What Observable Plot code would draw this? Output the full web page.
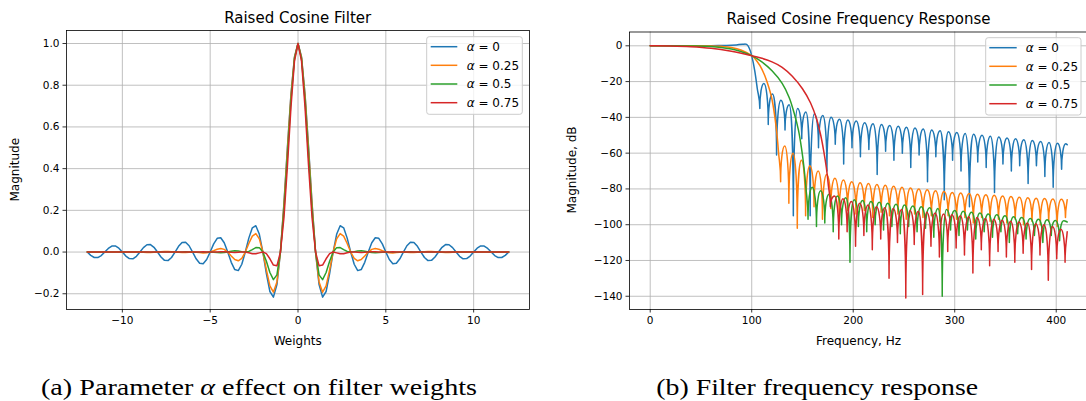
<!DOCTYPE html>
<html><head><meta charset="utf-8">
<script src="https://cdn.jsdelivr.net/npm/d3@7"></script>
<script src="https://cdn.jsdelivr.net/npm/@observablehq/plot@0.6"></script>
<style>
body{margin:0;width:1086px;height:401px;overflow:hidden;position:relative;background:#fff;font-family:"DejaVu Sans",sans-serif;color:#000}
.abs{position:absolute;left:0;top:0}
#left{width:543px}
#right{left:543px;width:560px}
svg{max-width:none !important}
.cap{font-family:'Liberation Serif','Times New Roman',serif}
</style></head><body>
<div id="left" class="abs"></div>
<div id="right" class="abs"></div>
<svg id="deco" class="abs" width="1086" height="401" style="overflow:visible"></svg>
<script>
// ---------- DATA ----------
const alphaLabels = ["0", "0.25", "0.5", "0.75"];
const colors = ["#1f77b4", "#ff7f0e", "#2ca02c", "#d62728"];

// filter weights, one side (weights 0, 0.2, ... 12); the plot is symmetric
const weightStep = 0.2;
const weightsAlpha0 = [1,.9355,.7568,.5046,.2339,0,-.1559,-.2162,-.1892,-.1039,0,.0850,.1261,.1164,.0668,0,-.0585,-.0890,-.0841,-.0492,0,.0445,.0688,.0658,.0390,0,-.0360,-.0561,-.0541,-.0323,0,.0302,.0473,.0459,.0275,0,-.0260,-.0409,-.0398,-.0240,0,.0228,.0360,.0352,.0213,0,-.0203,-.0322,-.0315,-.0191,0,.0183,.0291,.0286,.0173,0,-.0167,-.0266,-.0261,-.0159,0];
const weightsAlpha025 = [1,.9333,.7499,.4941,.2253,0,-.1432,-.1925,-.1624,-.0855,0,.0633,.0886,.0766,.0409,0,-.0303,-.0420,-.0357,-.0186,0,.0129,.0170,.0137,.0066,0,-.0037,-.0040,-.0024,-.0007,0,-.0005,-.0016,-.0021,-.0015,0,.0018,.0029,.0028,.0017,0,-.0014,-.0021,-.0018,-.0009,0,.0006,.0007,.0004,.0001,0,.0001,.0003,.0005,.0004,0,-.0004,-.0008,-.0008,-.0005,0];
const weightsAlpha05 = [1,.9268,.7290,.4634,.2008,0,-.1095,-.1324,-.0981,-.0441,0,.0211,.0214,.0119,.0030,0,.0020,.0050,.0057,.0035,0,-.0025,-.0030,-.0019,-.0005,0,-.0004,-.0012,-.0014,-.0009,0,.0008,.0010,.0006,.0002,0,.0002,.0004,.0006,.0004,0,-.0003,-.0004,-.0003,-.0001,0,0,0,0,0,0,0,0,0,0,0,0,0,0,0,0];
const weightsAlpha075 = [1,.9160,.6952,.4154,.1643,0,-.0662,-.0626,-.0322,-.0075,0,-.0039,-.0085,-.0081,-.0038,0,.0008,-.0006,-.0018,-.0014,0,.0010,.0010,.0002,-.0002,0,.0006,.0009,.0006,.0002,0,.0002,.0004,.0005,.0003,0,-.0001,0,0,0,0,0,0,0,0,0,0,0,0,0,0,0,0,0,0,0,0,0,0,0,0];

// frequency response [Hz, dB]
const respAlpha0 = [[0,0],[20,0.05],[40,-0.05],[60,0.1],[75,0.15],[85,0.45],[91,0.9],[95,0.75],[97.5,-1.2],[100,-5.5],[103,-14],[105.5,-24],[108,-35],
[112,-21],[116.3,-44],[120.4,-27],[124.5,-61],[128.7,-30.5],[132.8,-47],[136.9,-33],[141,-95],[145.2,-35],[149.3,-52],[153.4,-37],[157.6,-95],[161.7,-38],[165.8,-57],[170,-39],[174.1,-70],[178.2,-40],[182.3,-55],[186.5,-41],[190.6,-66],[194.7,-41.5],[198.8,-57],[203,-42],[207.1,-62],[211.2,-43],[215.4,-58],[219.5,-43.5],[223.6,-72],[227.8,-44],[231.9,-59],[236,-44.5],[240.1,-64],[244.3,-45],[248.4,-60],[252.5,-45.5],[256.7,-68],[260.8,-46],[264.9,-61],[269,-46.5],[273.2,-76],[277.3,-47],[281.4,-62],[285.6,-47.5],[289.7,-86],[293.8,-48],[297.9,-64],[302.1,-48.5],[306.2,-70],[310.3,-49],[314.5,-90],[318.6,-49.5],[322.7,-65],[326.9,-50],[331,-68],[335.1,-50.5],[339.2,-82],[343.4,-51],[347.5,-66],[351.6,-51.5],[355.8,-70],[359.9,-52],[364,-67],[368.1,-52.5],[372.3,-77],[376.4,-53],[380.5,-67],[384.7,-53.5],[388.8,-73],[392.9,-54],[397,-79],[401.2,-54.5],[405.3,-69],[409.4,-54.8],[410.8,-55.3]];
const respAlpha025 = [[0,0],[20,0],[40,0],[60,-0.1],[70,-0.3],[80,-0.9],[90,-2.5],[100,-5.5],[105,-8.5],[110,-13],[115,-20],[120,-30],[124,-45],[126.5,-60],[128.5,-76],
[132.5,-56],[136.6,-88],[140.7,-60],[144.9,-102],[149,-64],[153.1,-95],[157.3,-67],[161.4,-90],[165.5,-70],[169.7,-97],[173.8,-72],[177.9,-91],[182,-74],[186.2,-95],[190.3,-75],[194.4,-92],[198.6,-76],[202.7,-94],[206.8,-76.5],[210.9,-92],[215.1,-77],[219.2,-96],[223.3,-77.5],[227.5,-93],[231.6,-78],[235.7,-95],[239.8,-78.5],[244,-94],[248.1,-79],[252.2,-97],[256.4,-79.5],[260.5,-94],[264.6,-80],[268.7,-96],[272.9,-80.5],[277,-95],[281.1,-81],[285.3,-98],[289.4,-81.5],[293.5,-95],[297.6,-82],[301.8,-97],[305.9,-82.3],[310,-96],[314.2,-82.6],[318.3,-99],[322.4,-83],[326.5,-96],[330.7,-83.3],[334.8,-98],[338.9,-83.6],[343.1,-97],[347.2,-84],[351.3,-99],[355.4,-84.3],[359.6,-97],[363.7,-84.6],[367.8,-100],[372,-85],[376.1,-98],[380.2,-85.2],[384.3,-100],[388.5,-85.4],[392.6,-98],[396.7,-85.6],[400.9,-101],[405,-85.8],[409.1,-96],[410.8,-86]];
const respAlpha05 = [[0,0],[20,0],[40,-0.1],[60,-0.4],[80,-1.8],[90,-3.3],[100,-5.5],[110,-9],[120,-14],[130,-21],[137,-29],[142,-38],[146,-47],[149,-57],[151.5,-68],[153.5,-80],[155.5,-97],
[159.6,-79],[163.8,-101],[167.9,-81],[172,-99],[176.2,-83],[180.3,-104],[184.4,-84],[188.5,-100],[192.7,-85],[196.8,-121],[200.9,-86],[205.1,-101],[209.2,-86.5],[213.3,-104],[217.5,-87],[221.6,-100],[225.7,-87.5],[229.9,-103],[234,-88],[238.1,-101],[242.2,-88.5],[246.4,-105],[250.5,-89],[254.6,-101],[258.8,-89.5],[262.9,-104],[267,-90],[271.2,-102],[275.3,-90.5],[279.4,-107],[283.5,-91],[287.7,-140],[291.8,-91.5],[295.9,-103],[300,-92],[304.2,-106],[308.3,-92.5],[312.5,-103],[316.6,-93],[320.7,-108],[324.8,-93.5],[329,-104],[333.1,-94],[337.2,-107],[341.4,-94.5],[345.5,-104],[349.6,-95],[353.8,-110],[357.9,-95.5],[362,-105],[366.1,-96],[370.3,-108],[374.4,-96.5],[378.5,-106],[382.6,-97],[386.8,-110],[390.9,-97.3],[395.1,-106],[399.2,-97.6],[403.3,-109],[407.4,-97.8],[410.8,-98.5]];
const respAlpha075 = [[0,0],[20,-0.1],[40,-0.5],[60,-1.4],[80,-3.1],[100,-5.5],[110,-7],[120,-9],[130,-12],[140,-17],[150,-24],[158,-32],[164,-41],[168,-50],[171,-59],[173.5,-68],[175.5,-78],[177.5,-90],
[181.6,-84],[185.8,-108],[189.9,-85.5],[194,-104],[198.2,-87],[202.3,-112],[206.4,-88],[210.5,-106],[214.7,-89],[218.8,-114],[222.9,-90],[227.1,-108],[231.2,-90.5],[235.3,-130],[239.4,-91],[243.6,-110],[247.7,-91.5],[251.8,-141],[256,-92],[260.1,-111],[264.2,-92.5],[268.4,-139],[272.5,-93],[276.6,-112],[280.7,-93.5],[284.9,-118],[289,-94],[293.1,-115],[297.3,-94.5],[301.4,-113],[305.5,-95],[309.6,-117],[313.8,-95.5],[317.9,-127],[322,-96],[326.2,-114],[330.3,-96.5],[334.4,-123],[338.5,-97],[342.7,-115],[346.8,-97.5],[350.9,-118],[355.1,-98],[359.2,-121],[363.3,-98.5],[367.4,-116],[371.6,-99],[375.7,-125],[379.8,-99.5],[384,-117],[388.1,-100],[392.2,-131],[396.3,-101],[400.5,-119],[404.6,-102.5],[408.7,-121],[410.8,-104]];

const weightTicks = [-10, -5, 0, 5, 10];
const magTicks = [-0.2, 0, 0.2, 0.4, 0.6, 0.8, 1.0];
const freqTicks = [0, 100, 200, 300, 400];
const dbTicks = [0, -20, -40, -60, -80, -100, -120, -140];

// ---------- helpers ----------
const minus = (s) => s.replace("-", "\u2212");
const fmt = (digits) => (d) => minus((Math.abs(d) < 1e-9 ? 0 : d).toFixed(digits));

const halves = [weightsAlpha0, weightsAlpha025, weightsAlpha05, weightsAlpha075];
const leftData = [];
halves.forEach((arr, s) => {
  const n = arr.length - 1;
  for (let i = -n; i <= n; i++) {
    leftData.push({series: alphaLabels[s], x: +(i * weightStep).toFixed(1), y: arr[Math.abs(i)]});
  }
});
const rightData = [];
[respAlpha0, respAlpha025, respAlpha05, respAlpha075].forEach((arr, s) => {
  arr.forEach(([f, db]) => rightData.push({series: alphaLabels[s], f, db}));
});

// curve: rounded lobe tops, sharp nulls
function lobeCurve(context) {
  let pts;
  return {
    areaStart() {}, areaEnd() {},
    lineStart() { pts = []; },
    point(x, y) { pts.push([+x, +y]); },
    lineEnd() {
      const n = pts.length;
      if (!n) return;
      context.moveTo(pts[0][0], pts[0][1]);
      const kind = pts.map((p, i) => {
        if (i === 0 || i === n - 1) return "end";
        const a = pts[i - 1][1], b = pts[i + 1][1];
        if (p[1] < a && p[1] < b) return "peak";
        if (p[1] > a && p[1] > b) return "null";
        return "mid";
      });
      for (let i = 0; i < n - 1; i++) {
        const [x0, y0] = pts[i], [x1, y1] = pts[i + 1];
        const dx = x1 - x0, dy = y1 - y0;
        let c1, c2;
        if (kind[i] === "peak") c1 = [x0 + dx * 0.55, y0];
        else if (kind[i] === "null") c1 = [x0, y0 + dy * 0.55];
        else if (kind[i] === "mid") { const p = pts[i - 1], q = pts[i + 1]; c1 = [x0 + (q[0] - p[0]) / 6, y0 + (q[1] - p[1]) / 6]; }
        else c1 = [x0 + dx / 3, y0 + dy / 3];
        if (kind[i + 1] === "peak") c2 = [x1 - dx * 0.55, y1];
        else if (kind[i + 1] === "null") c2 = [x1, y1 - dy * 0.55];
        else if (kind[i + 1] === "mid") { const p = pts[i], q = pts[i + 2]; c2 = [x1 - (q[0] - p[0]) / 6, y1 - (q[1] - p[1]) / 6]; }
        else c2 = [x1 - dx / 3, y1 - dy / 3];
        context.bezierCurveTo(c1[0], c1[1], c2[0], c2[1], x1, y1);
      }
    }
  };
}

const gridStyle = {stroke: "#b0b0b0", strokeOpacity: 1, strokeWidth: 0.8};
const axisStyle = {tickSize: 3.5, tickPadding: 3.5, fontSize: 10.5, label: null, strokeWidth: 0.8, fill: "#000", stroke: "#000"};
const colorScale = {domain: alphaLabels, range: colors};
const plotStyle = {fontFamily: "DejaVu Sans", fontSize: "10.5px", color: "#000", background: "transparent", overflow: "visible", maxWidth: "none"};

const left = Plot.plot({
  width: 543, height: 340, marginLeft: 66, marginRight: 14, marginTop: 30, marginBottom: 31,
  style: plotStyle,
  x: {domain: [-13.18, 13.18]},
  y: {domain: [-0.2755, 1.0624]},
  color: colorScale,
  marks: [
    Plot.gridX(weightTicks, gridStyle),
    Plot.gridY(magTicks, gridStyle),
    Plot.line(leftData, {x: "x", y: "y", z: "series", stroke: "series", strokeWidth: 1.5}),
    Plot.frame({stroke: "#000", strokeWidth: 0.8}),
    Plot.axisX(weightTicks, {...axisStyle, tickFormat: fmt(0)}),
    Plot.axisY(magTicks, {...axisStyle, tickFormat: fmt(1)})
  ]
});
document.getElementById("left").append(left);

const right = Plot.plot({
  width: 560, height: 340, marginLeft: 86, marginRight: 15.5, marginTop: 31.5, marginBottom: 31,
  style: plotStyle,
  x: {domain: [-20.4, 431.3]},
  y: {domain: [-147.4, 7.72]},
  color: colorScale,
  marks: [
    Plot.gridX(freqTicks, gridStyle),
    Plot.gridY(dbTicks, gridStyle),
    Plot.line(rightData, {x: "f", y: "db", z: "series", stroke: "series", strokeWidth: 1.5, curve: lobeCurve}),
    Plot.frame({stroke: "#000", strokeWidth: 0.8}),
    Plot.axisX(freqTicks, {...axisStyle, tickFormat: fmt(0)}),
    Plot.axisY(dbTicks, {...axisStyle, tickFormat: fmt(0)})
  ]
});
document.getElementById("right").append(right);

// ---------- decorations: titles, axis labels, legends, captions ----------
const ns = "http://www.w3.org/2000/svg";
const deco = document.getElementById("deco");
function el(tag, attrs, text) {
  const e = document.createElementNS(ns, tag);
  for (const k in attrs) e.setAttribute(k, attrs[k]);
  if (text != null) e.textContent = text;
  deco.appendChild(e);
  return e;
}
const sans = "DejaVu Sans";
el("text", {x: 297.7, y: 23.3, "text-anchor": "middle", "font-family": sans, "font-size": 15}, "Raised Cosine Filter");
el("text", {x: 858.5, y: 23.8, "text-anchor": "middle", "font-family": sans, "font-size": 15}, "Raised Cosine Frequency Response");
el("text", {x: 297.7, y: 344.5, "text-anchor": "middle", "font-family": sans, "font-size": 12}, "Weights");
el("text", {x: 858.5, y: 344.5, "text-anchor": "middle", "font-family": sans, "font-size": 12}, "Frequency, Hz");
el("text", {transform: "translate(19,169.7) rotate(-90)", "text-anchor": "middle", "font-family": sans, "font-size": 12}, "Magnitude");
el("text", {transform: "translate(575.5,170) rotate(-90)", "text-anchor": "middle", "font-family": sans, "font-size": 12}, "Magnitude, dB");

function legend(bx, by, bw, bh, lx0, lx1, tx, rows) {
  el("rect", {x: bx, y: by, width: bw, height: bh, rx: 2.5, fill: "#fff", "fill-opacity": 0.8, stroke: "#cccccc", "stroke-width": 1});
  rows.forEach((ry, i) => {
    el("line", {x1: lx0, x2: lx1, y1: ry, y2: ry, stroke: colors[i], "stroke-width": 1.5});
    const t = el("text", {x: tx, y: ry + 4.3, "font-family": sans, "font-size": 12});
    const a = document.createElementNS(ns, "tspan");
    a.setAttribute("font-style", "italic"); a.textContent = "\u03b1";
    t.appendChild(a);
    t.appendChild(document.createTextNode(" = " + alphaLabels[i]));
  });
}
legend(426.7, 36.7, 95.6, 77.6, 430.7, 457.3, 466.7, [46.7, 65.3, 84, 102.7]);
legend(985.7, 37.7, 95.3, 77.3, 989.3, 1016.7, 1025.7, [47.7, 66.3, 85, 103.7]);

function caption(x, parts, width) {
  const t = el("text", {x, y: 395, "text-anchor": "middle", class: "cap", "font-size": 23, textLength: width, lengthAdjust: "spacingAndGlyphs"});
  parts.forEach(([s, it]) => {
    const sp = document.createElementNS(ns, "tspan");
    if (it) sp.setAttribute("font-style", "italic");
    sp.textContent = s;
    t.appendChild(sp);
  });
}
caption(259, [["(a) Parameter ", false], ["\u03b1", true], [" effect on filter weights", false]], 436);
caption(817.2, [["(b) Filter frequency response", false]], 321.7);
</script>
</body></html>
